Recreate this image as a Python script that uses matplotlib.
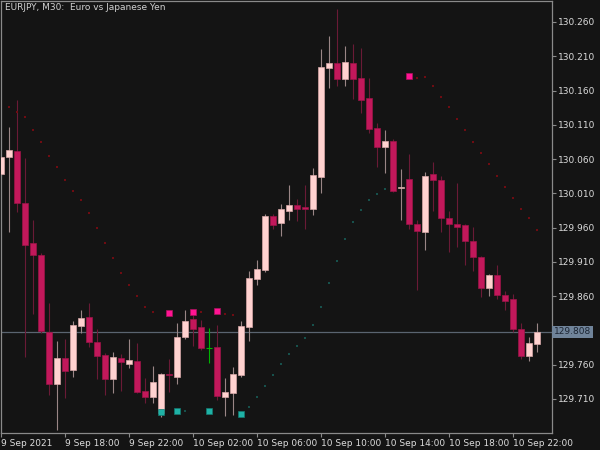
import matplotlib
matplotlib.use('Agg')
import matplotlib.pyplot as plt
import matplotlib.transforms as mtransforms
import numpy as np
import pandas as pd

# EURJPY M30 candles, 9 Sep 14:00 -> 10 Sep 23:30
times = pd.date_range('2021-09-09 14:00', periods=68, freq='30min')

opens = [130.038, 130.063, 130.072, 129.996, 129.938, 129.920, 129.808, 129.732, 129.770, 129.752,
         129.817, 129.830, 129.793, 129.774, 129.739, 129.770, 129.761, 129.765, 129.722, 129.713,
         129.690, 129.747, 129.742, 129.800, 129.827, 129.815, 129.784, 129.786, 129.713, 129.719,
         129.745, 129.815, 129.885, 129.898, 129.977, 129.967, 129.984, 129.993, 129.990, 129.987,
         130.034, 130.193, 130.200, 130.177, 130.200, 130.178, 130.149, 130.105, 130.078, 130.086,
         130.018, 130.031, 129.965, 129.954, 130.038, 130.030, 129.974, 129.965, 129.964, 129.941,
         129.917, 129.872, 129.891, 129.862, 129.856, 129.812, 129.773, 129.790]
highs = [130.063, 130.107, 130.146, 130.062, 129.971, 129.923, 129.850, 129.795, 129.798, 129.824,
         129.840, 129.850, 129.812, 129.777, 129.779, 129.776, 129.798, 129.792, 129.741, 129.758,
         129.748, 129.768, 129.821, 129.840, 129.833, 129.825, 129.814, 129.818, 129.741, 129.757,
         129.824, 129.897, 129.913, 129.980, 129.980, 129.995, 130.022, 130.002, 130.022, 130.047,
         130.221, 130.240, 130.279, 130.225, 130.228, 130.222, 130.178, 130.113, 130.102, 130.089,
         130.046, 130.067, 129.971, 130.041, 130.056, 130.035, 129.984, 130.025, 129.965, 129.961,
         129.919, 129.892, 129.906, 129.868, 129.863, 129.821, 129.800, 129.821]
lows = [130.035, 129.954, 129.983, 129.771, 129.834, 129.806, 129.716, 129.665, 129.712, 129.742,
        129.806, 129.786, 129.739, 129.716, 129.719, 129.722, 129.755, 129.719, 129.704, 129.704,
        129.684, 129.720, 129.732, 129.798, 129.787, 129.782, 129.763, 129.709, 129.685, 129.687,
        129.742, 129.795, 129.876, 129.895, 129.958, 129.948, 129.971, 129.970, 129.958, 129.978,
        130.011, 130.164, 130.167, 130.167, 130.148, 130.127, 130.098, 130.048, 130.040, 130.012,
        129.971, 129.958, 129.869, 129.927, 129.984, 129.954, 129.925, 129.932, 129.906, 129.897,
        129.859, 129.860, 129.856, 129.840, 129.808, 129.768, 129.765, 129.779]
closes = [130.063, 130.073, 129.996, 129.935, 129.920, 129.809, 129.732, 129.770, 129.751, 129.818,
          129.828, 129.793, 129.773, 129.739, 129.771, 129.764, 129.767, 129.720, 129.713, 129.735,
          129.747, 129.745, 129.800, 129.824, 129.812, 129.784, 129.784, 129.714, 129.720, 129.747,
          129.817, 129.887, 129.900, 129.977, 129.964, 129.987, 129.993, 129.987, 129.987, 130.037,
          130.194, 130.200, 130.177, 130.202, 130.177, 130.146, 130.104, 130.078, 130.086, 130.013,
          130.019, 129.965, 129.955, 130.035, 130.030, 129.974, 129.965, 129.961, 129.941, 129.917,
          129.872, 129.891, 129.862, 129.853, 129.812, 129.773, 129.792, 129.808]

# trailing stop dots above price (down trend)
up_idx = list(range(1, 20)) + [25, 28, 29] + list(range(52, 68))
up_vals = [130.136, 130.129, 130.121, 130.102, 130.085, 130.065, 130.048, 130.030, 130.013, 130.000,
           129.981, 129.960, 129.938, 129.916, 129.894, 129.876, 129.860, 129.844, 129.837,
           129.837, 129.834, 129.833,
           130.178, 130.180, 130.167, 130.151, 130.136, 130.119, 130.102, 130.085, 130.069, 130.053,
           130.035, 130.019, 130.003, 129.987, 129.974, 129.957]

# trailing stop dots below price (up trend)
dn_idx = [23] + list(range(31, 50))
dn_vals = [129.693, 129.698, 129.713, 129.729, 129.745, 129.761, 129.776, 129.787, 129.799, 129.818,
           129.844, 129.879, 129.911, 129.943, 129.968, 129.986, 130.000, 130.009, 130.016, 130.019]

# signal squares
sell_idx = [21, 24, 27, 51]
sell_vals = [129.836, 129.837, 129.838, 130.181]
buy_idx = [20, 22, 26, 30]
buy_vals = [129.691, 129.693, 129.693, 129.688]

last_price = 129.808
title = 'EURJPY, M30:  Euro vs Japanese Yen'

BG = '#141414'
BULL = '#ffd2d0'
BEAR = '#c2185b'
AXIS = '#8a8a8a'
TXT = '#dcdcdc'


def tick_label(t, first):
    if first:
        return f'{t.day} {t:%b %Y}'
    return f'{t.day} {t:%b %H:%M}'


def main():
    fig = plt.figure(figsize=(6, 4.5), dpi=100, facecolor=BG)
    ax = fig.add_axes([1 / 600, 17 / 450, 551 / 600, 432 / 450], facecolor=BG)

    o = np.array(opens)
    h = np.array(highs)
    l = np.array(lows)
    c = np.array(closes)
    x = np.arange(len(o))

    bull = c > o
    doji = c == o

    # wicks
    wick_cols = np.where(bull, '#9a8686', '#6a1a36')
    wick_cols = np.where(doji, '#00b400', wick_cols)
    ax.vlines(x, l, h, colors=wick_cols, linewidth=0.8, zorder=2)

    # bodies
    bot = np.minimum(o, c)
    hgt = np.maximum(np.abs(c - o), 0.0012)
    body_cols = np.where(bull, BULL, BEAR)
    edge_cols = np.where(bull, '#d8a8a8', '#9c1448')
    nd = ~doji
    ax.bar(x[nd], hgt[nd], bottom=bot[nd], width=0.72, color=body_cols[nd],
           edgecolor=edge_cols[nd], linewidth=0.5, zorder=3)
    ax.hlines(o[doji], x[doji] - 0.36, x[doji] + 0.36, colors='#00b400', linewidth=0.8, zorder=3)

    # indicator dots and signals
    ax.plot(up_idx, up_vals, 's', color='#6e0c12', markersize=1.6, markeredgewidth=0, zorder=2)
    ax.plot(dn_idx, dn_vals, 's', color='#17514c', markersize=1.6, markeredgewidth=0, zorder=2)
    ax.plot(sell_idx, sell_vals, 's', color='#ff1493', markeredgecolor='#b0105f',
            markersize=4, markeredgewidth=0.5, zorder=4)
    ax.plot(buy_idx, buy_vals, 's', color='#1fb2a6', markeredgecolor='#137a72',
            markersize=4, markeredgewidth=0.5, zorder=4)

    # current price line and label
    ax.axhline(last_price, color='#5a6470', linewidth=0.9, zorder=1)
    trans = mtransforms.blended_transform_factory(ax.transAxes, ax.transData)
    ax.text(1.003, last_price, f'{last_price:.3f}', transform=trans, ha='left', va='center',
            fontsize=6.5, color='#1c2533', clip_on=False,
            bbox=dict(boxstyle='square,pad=0.18', facecolor='#70849a', edgecolor='none'))

    # axes limits
    ax.set_xlim(-0.04, 68.84)
    ax.set_ylim(129.6604, 130.2906)

    # price axis on the right, the label under the price box is hidden
    yt = np.round(np.arange(129.710, 130.261, 0.05), 3)
    ylabels = ['' if abs(v - last_price) < 0.02 else f'{v:.3f}' for v in yt]
    ax.yaxis.tick_right()
    ax.set_yticks(yt, ylabels)

    # time axis every 8 bars, labels start at the tick
    xt = np.arange(0, len(o), 8)
    ax.set_xticks(xt, [tick_label(times[i], i == 0) for i in xt])
    for lbl in ax.get_xticklabels():
        lbl.set_horizontalalignment('left')

    ax.tick_params(axis='both', colors=AXIS, labelcolor=TXT, labelsize=6.5,
                   length=3, width=0.8, pad=1.5)
    for s in ax.spines.values():
        s.set_color(AXIS)
        s.set_linewidth(0.9)

    fig.text(5 / 600, 1 - 8 / 450, title, ha='left', va='center', fontsize=6.5, color='#d0d0d0')

    fig.savefig('out.png', dpi=100, facecolor=BG)


if __name__ == '__main__':
    main()
